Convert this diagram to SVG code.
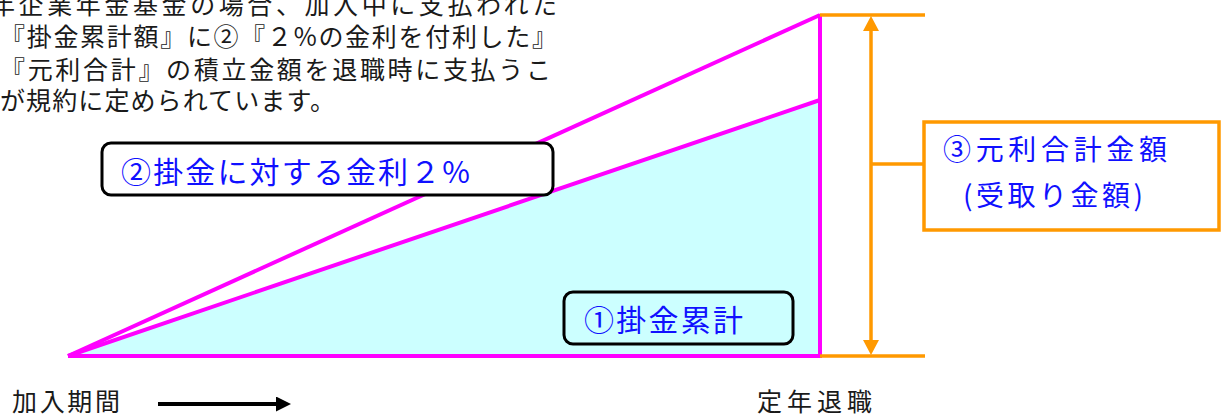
<svg xmlns="http://www.w3.org/2000/svg" width="1227" height="419" viewBox="0 0 1227 419">
<style>
.txt{font-family:"Noto Sans CJK JP","Noto Sans",sans-serif;fill:#1a1a1a;}
.blue{font-family:"Noto Sans CJK JP","Noto Sans",sans-serif;fill:#1010ff;}
.mag{stroke:#ff00ff;stroke-width:4;fill:none;stroke-linejoin:miter;}
.org{stroke:#ff9900;stroke-width:3.5;fill:none;}
</style>
<defs>
<marker id="oh" viewBox="0 -8 15 16" refX="0" refY="0" markerWidth="15" markerHeight="16" markerUnits="userSpaceOnUse" orient="auto-start-reverse">
<path d="M0,-8 L15,0 L0,8 z" fill="#ff9900"/>
</marker>
<marker id="bh" viewBox="0 -7.5 15 15" refX="0" refY="0" markerWidth="15" markerHeight="15" markerUnits="userSpaceOnUse" orient="auto">
<path d="M0,-7.5 L15,0 L0,7.5 z" fill="#000"/>
</marker>
</defs>
<g id="chart">
<polygon points="70,355 820,100 820,355" fill="#ccffff"/>
<line class="mag" x1="68" y1="356" x2="820" y2="100"/>
<line class="mag" x1="68" y1="356" x2="820" y2="15"/>
<polyline class="mag" points="68,356 820,356 820,14"/>
</g>
<g id="connectors">
<line class="org" x1="820" y1="15" x2="925" y2="15"/>
<line class="org" x1="820" y1="356" x2="925" y2="356"/>
<line class="org" x1="871" y1="31" x2="871" y2="340" marker-start="url(#oh)" marker-end="url(#oh)"/>
<line class="org" x1="871" y1="164" x2="924" y2="164"/>
<line x1="158" y1="404" x2="276" y2="404" stroke="#000" stroke-width="4" marker-end="url(#bh)"/>
</g>
<g id="intro">
<text class="txt" font-size="25" x="-10" y="14" textLength="567" lengthAdjust="spacing">年企業年金基金の場合、加入中に支払われた</text>
<text class="txt" font-size="25" x="0" y="46" textLength="557" lengthAdjust="spacing">『掛金累計額』に②『２%の金利を付利した』</text>
<text class="txt" font-size="25" x="0" y="79" textLength="551" lengthAdjust="spacing">『元利合計』の積立金額を退職時に支払うこ</text>
<text class="txt" font-size="25" x="0" y="110" textLength="335" lengthAdjust="spacing">が規約に定められています。</text>
</g>
<g id="box-interest">
<rect x="102" y="143" width="451" height="52" rx="9" fill="#fff" stroke="#000" stroke-width="3"/>
<text class="blue" font-size="30" x="121" y="183" textLength="349" lengthAdjust="spacing">②掛金に対する金利２%</text>
</g>
<g id="box-cumulative">
<rect x="564" y="292" width="229" height="52" rx="9" fill="none" stroke="#000" stroke-width="3"/>
<text class="blue" font-size="30" x="584" y="331" textLength="159" lengthAdjust="spacing">①掛金累計</text>
</g>
<g id="box-total">
<rect x="924" y="122" width="295" height="108" fill="#fff" stroke="#ff9900" stroke-width="3.5"/>
<text class="blue" font-size="28" x="943" y="160" textLength="224" lengthAdjust="spacing">③元利合計金額</text>
<text class="blue" font-size="28" x="963" y="206" textLength="180" lengthAdjust="spacing">(受取り金額)</text>
</g>
<g id="label-period">
<text class="txt" font-size="25" x="12" y="411" textLength="108" lengthAdjust="spacing">加入期間</text>
</g>
<g id="label-retire">
<text class="txt" font-size="25" x="757" y="411" textLength="115" lengthAdjust="spacing">定年退職</text>
</g>
</svg>
